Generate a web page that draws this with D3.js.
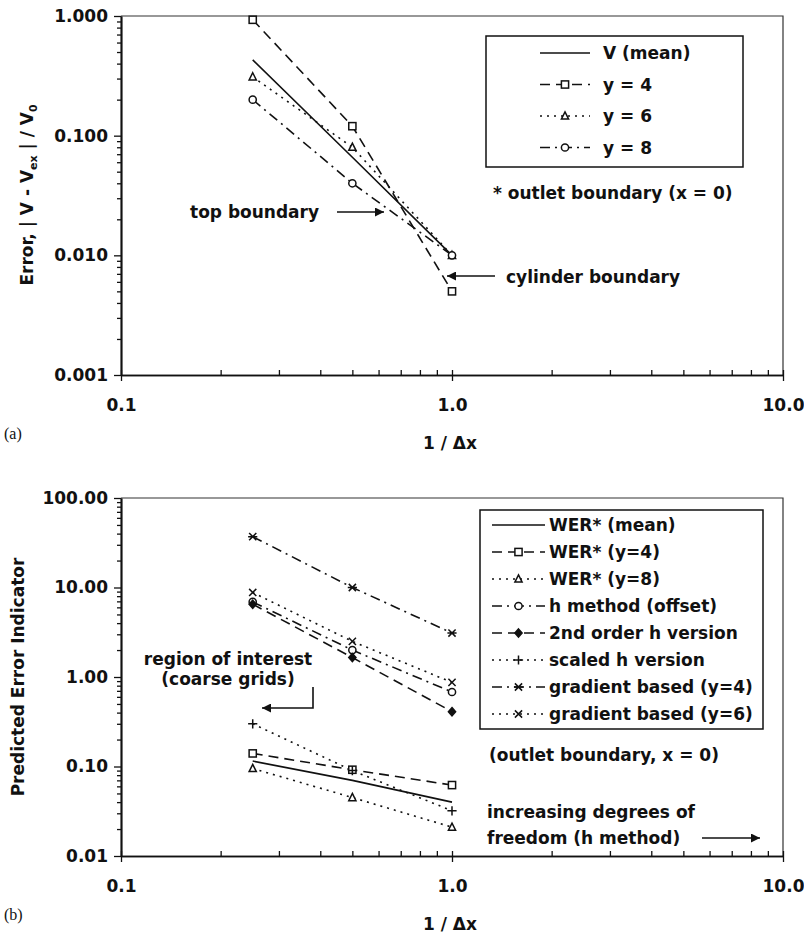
<!DOCTYPE html>
<html>
<head>
<meta charset="utf-8">
<script src="https://cdn.jsdelivr.net/npm/d3@7"></script>
<style>
  body { margin: 0; background: #fff; }
  text { font-family: "DejaVu Sans", sans-serif; font-weight: bold; fill: #111; }
</style>
</head>
<body>
<div id="chart"></div>
<script>
// grid spacing values (1 / dx)
const gridX = [0.25, 0.5, 1.0];

// panel (a): error of V at outlet boundary
const vMean = [0.43, 0.066, 0.01];
const vY4 = [0.93, 0.12, 0.005];
const vY6 = [0.31, 0.08, 0.01];
const vY8 = [0.2, 0.04, 0.01];
const topNames = ["V (mean)", "y = 4", "y = 6", "y = 8"];

// panel (b): predicted error indicators
const werMean = [0.115, 0.07, 0.04];
const werY4 = [0.14, 0.092, 0.062];
const werY8 = [0.095, 0.045, 0.021];
const hOffset = [6.9, 2.0, 0.68];
const h2nd = [6.5, 1.65, 0.41];
const hScaled = [0.3, 0.09, 0.032];
const gradY4 = [37, 10, 3.1];
const gradY6 = [8.8, 2.5, 0.87];
const botNames = ["WER* (mean)", "WER* (y=4)", "WER* (y=8)", "h method (offset)",
                  "2nd order h version", "scaled h version", "gradient based (y=4)", "gradient based (y=6)"];

const xTicks = [0.1, 1, 10];
const xTickLabels = ["0.1", "1.0", "10.0"];
const topYTicks = [0.001, 0.01, 0.1, 1];
const topYLabels = ["0.001", "0.010", "0.100", "1.000"];
const botYTicks = [0.01, 0.1, 1, 10, 100];
const botYLabels = ["0.01", "0.10", "1.00", "10.00", "100.00"];

const DASH = {solid: null, dash: "10,6", dot: "2,5", dashdot: "10,5,2,5"};

const svg = d3.select("#chart").append("svg")
    .attr("width", 804)
    .attr("height", 937);

svg.append("defs").append("marker")
    .attr("id", "arrow")
    .attr("viewBox", "0 0 10 10")
    .attr("refX", 10).attr("refY", 5)
    .attr("markerWidth", 15).attr("markerHeight", 9)
    .attr("markerUnits", "userSpaceOnUse")
    .attr("orient", "auto")
    .append("path")
    .attr("d", "M0,0 L10,5 L0,10 Z")
    .attr("fill", "#111");

function minorTicks(lo, hi) {
    const out = [];
    for (let p = Math.log10(lo); p < Math.log10(hi); p++) {
        for (let m = 2; m <= 9; m++) out.push(m * Math.pow(10, p));
    }
    return out;
}

function drawMarker(g, type, cx, cy) {
    const s = 3.6;
    const common = sel => sel.attr("stroke", "#111").attr("stroke-width", 1.5);
    if (type === "square") {
        common(g.append("rect").attr("x", cx - s).attr("y", cy - s).attr("width", 2 * s).attr("height", 2 * s).attr("fill", "#fff"));
    } else if (type === "triangle") {
        common(g.append("path").attr("d", `M${cx},${cy - s - 0.5} L${cx + s},${cy + s - 0.5} L${cx - s},${cy + s - 0.5} Z`).attr("fill", "#fff"));
    } else if (type === "circle") {
        common(g.append("circle").attr("cx", cx).attr("cy", cy).attr("r", s).attr("fill", "#fff"));
    } else if (type === "diamond") {
        common(g.append("path").attr("d", `M${cx},${cy - s - 0.5} L${cx + s},${cy} L${cx},${cy + s + 0.5} L${cx - s},${cy} Z`).attr("fill", "#111"));
    } else if (type === "plus") {
        common(g.append("path").attr("d", `M${cx - s - 1},${cy} H${cx + s + 1} M${cx},${cy - s - 1} V${cy + s + 1}`).attr("stroke-width", 2));
    } else if (type === "xbar") {
        common(g.append("path").attr("d", `M${cx - s},${cy - s} L${cx + s},${cy + s} M${cx - s},${cy + s} L${cx + s},${cy - s} M${cx - s - 1},${cy} H${cx + s + 1}`).attr("stroke-width", 2.2));
    } else if (type === "x") {
        common(g.append("path").attr("d", `M${cx - s},${cy - s} L${cx + s},${cy + s} M${cx - s},${cy + s} L${cx + s},${cy - s}`).attr("stroke-width", 1.7));
    }
}

function drawPanel(cfg) {
    const x = d3.scaleLog().domain([0.1, 10]).range([121, 783]);
    const y = d3.scaleLog().domain(cfg.yDomain).range([cfg.bottom, cfg.top]);
    const g = svg.append("g");

    // frame (top & right)
    g.append("path")
        .attr("d", `M121,${cfg.top} H783 V${cfg.bottom}`)
        .attr("fill", "none").attr("stroke", "#333").attr("stroke-width", 1.2);

    // y axis
    const yMin = g.append("g").attr("transform", "translate(121,0)")
        .call(d3.axisLeft(y).tickValues(minorTicks(cfg.yDomain[0], cfg.yDomain[1])).tickSize(4).tickSizeOuter(0).tickFormat(""));
    const yMaj = g.append("g").attr("transform", "translate(121,0)")
        .call(d3.axisLeft(y).tickValues(cfg.yTicks).tickSize(7).tickSizeOuter(0).tickPadding(6)
            .tickFormat((d, i) => cfg.yLabels[i]));

    // x axis: majors cross the axis, minors point inward
    const xUp = g.append("g").attr("transform", `translate(0,${cfg.bottom})`)
        .call(d3.axisTop(x).tickValues(minorTicks(0.1, 10).concat(xTicks)).tickSize(5).tickSizeOuter(0).tickFormat(""));
    const xMaj = g.append("g").attr("transform", `translate(0,${cfg.bottom})`)
        .call(d3.axisBottom(x).tickValues(xTicks).tickSize(6).tickSizeOuter(0).tickPadding(18)
            .tickFormat((d, i) => xTickLabels[i]));

    [yMin, yMaj, xUp, xMaj].forEach(a => {
        a.selectAll("path.domain").attr("stroke", "#111").attr("stroke-width", 1.7);
        a.selectAll("line").attr("stroke", "#111").attr("stroke-width", 1.3);
        a.selectAll("text").style("font-family", "DejaVu Sans").style("font-weight", "bold")
            .style("font-size", "17px").attr("fill", "#111");
    });

    // x title
    g.append("text").attr("x", 450).attr("y", cfg.bottom + 74)
        .attr("text-anchor", "middle").style("font-size", "17px").text("1 / \u0394x");

    // panel letter
    g.append("text").attr("x", 4).attr("y", cfg.bottom + 64)
        .style("font-family", "Liberation Serif, serif").style("font-weight", "normal")
        .style("font-size", "16px").text(cfg.letter);

    // series
    const line = d3.line().x((d, i) => x(gridX[i])).y(d => y(d));
    cfg.series.forEach(s => {
        g.append("path").datum(s.values)
            .attr("d", line)
            .attr("fill", "none").attr("stroke", "#111").attr("stroke-width", 1.6)
            .attr("stroke-dasharray", DASH[s.dash]);
    });
    cfg.series.forEach(s => {
        if (!s.marker) return;
        s.values.forEach((v, i) => drawMarker(g, s.marker, x(gridX[i]), y(v)));
    });

    // legend
    const L = cfg.legend;
    g.append("rect").attr("x", L.x).attr("y", L.y).attr("width", L.w).attr("height", L.h)
        .attr("fill", "#fff").attr("stroke", "#111").attr("stroke-width", 1.5);
    cfg.series.forEach((s, i) => {
        const ly = L.row0 + i * L.step;
        g.append("line").attr("x1", L.sx0).attr("x2", L.sx1).attr("y1", ly).attr("y2", ly)
            .attr("stroke", "#111").attr("stroke-width", 1.6).attr("stroke-dasharray", DASH[s.dash]);
        if (s.marker) drawMarker(g, s.marker, (L.sx0 + L.sx1) / 2, ly);
        g.append("text").attr("x", L.tx).attr("y", ly).attr("dy", "0.36em")
            .style("font-size", "17px").text(s.name);
    });
    return {g, x, y};
}

// ---- panel (a)
const topSeries = [
    {name: topNames[0], values: vMean, dash: "solid", marker: null},
    {name: topNames[1], values: vY4, dash: "dash", marker: "square"},
    {name: topNames[2], values: vY6, dash: "dot", marker: "triangle"},
    {name: topNames[3], values: vY8, dash: "dashdot", marker: "circle"}
];
const pa = drawPanel({
    top: 16, bottom: 375, yDomain: [0.001, 1], yTicks: topYTicks, yLabels: topYLabels,
    letter: "(a)", series: topSeries,
    legend: {x: 486, y: 36, w: 257, h: 131, row0: 53, step: 31.5, sx0: 540, sx1: 590, tx: 603}
});

// y title (a)
const ta = svg.append("text").attr("transform", "translate(33,195) rotate(-90)")
    .attr("text-anchor", "middle").style("font-size", "17px");
ta.append("tspan").text("Error, | V - V");
ta.append("tspan").attr("dy", 4).style("font-size", "11px").text("ex");
ta.append("tspan").attr("dy", -4).text(" | / V");
ta.append("tspan").attr("dy", 4).style("font-size", "11px").text("0");

pa.g.append("text").attr("x", 493).attr("y", 193).attr("dy", "0.36em").style("font-size", "17px")
    .text("* outlet boundary (x = 0)");
pa.g.append("text").attr("x", 190).attr("y", 212).attr("dy", "0.36em").style("font-size", "17px")
    .text("top boundary");
pa.g.append("line").attr("x1", 337).attr("x2", 384).attr("y1", 212).attr("y2", 212)
    .attr("stroke", "#111").attr("stroke-width", 1.6).attr("marker-end", "url(#arrow)");
pa.g.append("text").attr("x", 506).attr("y", 277).attr("dy", "0.36em").style("font-size", "17px")
    .text("cylinder boundary");
pa.g.append("line").attr("x1", 495).attr("x2", 447).attr("y1", 276).attr("y2", 276)
    .attr("stroke", "#111").attr("stroke-width", 1.6).attr("marker-end", "url(#arrow)");

// ---- panel (b)
const botSeries = [
    {name: botNames[0], values: werMean, dash: "solid", marker: null},
    {name: botNames[1], values: werY4, dash: "dash", marker: "square"},
    {name: botNames[2], values: werY8, dash: "dot", marker: "triangle"},
    {name: botNames[3], values: hOffset, dash: "dashdot", marker: "circle"},
    {name: botNames[4], values: h2nd, dash: "dash", marker: "diamond"},
    {name: botNames[5], values: hScaled, dash: "dot", marker: "plus"},
    {name: botNames[6], values: gradY4, dash: "dashdot", marker: "xbar"},
    {name: botNames[7], values: gradY6, dash: "dot", marker: "x"}
];
const pb = drawPanel({
    top: 498, bottom: 856, yDomain: [0.01, 100], yTicks: botYTicks, yLabels: botYLabels,
    letter: "(b)", series: botSeries,
    legend: {x: 480, y: 510, w: 283, h: 219, row0: 525, step: 27, sx0: 492, sx1: 545, tx: 549}
});

svg.append("text").attr("transform", "translate(24,677) rotate(-90)")
    .attr("text-anchor", "middle").style("font-size", "17px").text("Predicted Error Indicator");

pb.g.append("text").attr("x", 489).attr("y", 755).attr("dy", "0.36em").style("font-size", "17px")
    .text("(outlet boundary, x = 0)");
pb.g.append("text").attr("x", 487).attr("y", 812).attr("dy", "0.36em").style("font-size", "17px")
    .text("increasing degrees of");
pb.g.append("text").attr("x", 487).attr("y", 838).attr("dy", "0.36em").style("font-size", "17px")
    .text("freedom (h method)");
pb.g.append("line").attr("x1", 702).attr("x2", 760).attr("y1", 838).attr("y2", 838)
    .attr("stroke", "#111").attr("stroke-width", 1.6).attr("marker-end", "url(#arrow)");

pb.g.append("text").attr("x", 228).attr("y", 659).attr("dy", "0.36em").attr("text-anchor", "middle")
    .style("font-size", "17px").text("region of interest");
pb.g.append("text").attr("x", 228).attr("y", 679).attr("dy", "0.36em").attr("text-anchor", "middle")
    .style("font-size", "17px").text("(coarse grids)");
pb.g.append("path").attr("d", "M313,687 V708 H262")
    .attr("fill", "none").attr("stroke", "#111").attr("stroke-width", 1.6).attr("marker-end", "url(#arrow)");
</script>
</body>
</html>
